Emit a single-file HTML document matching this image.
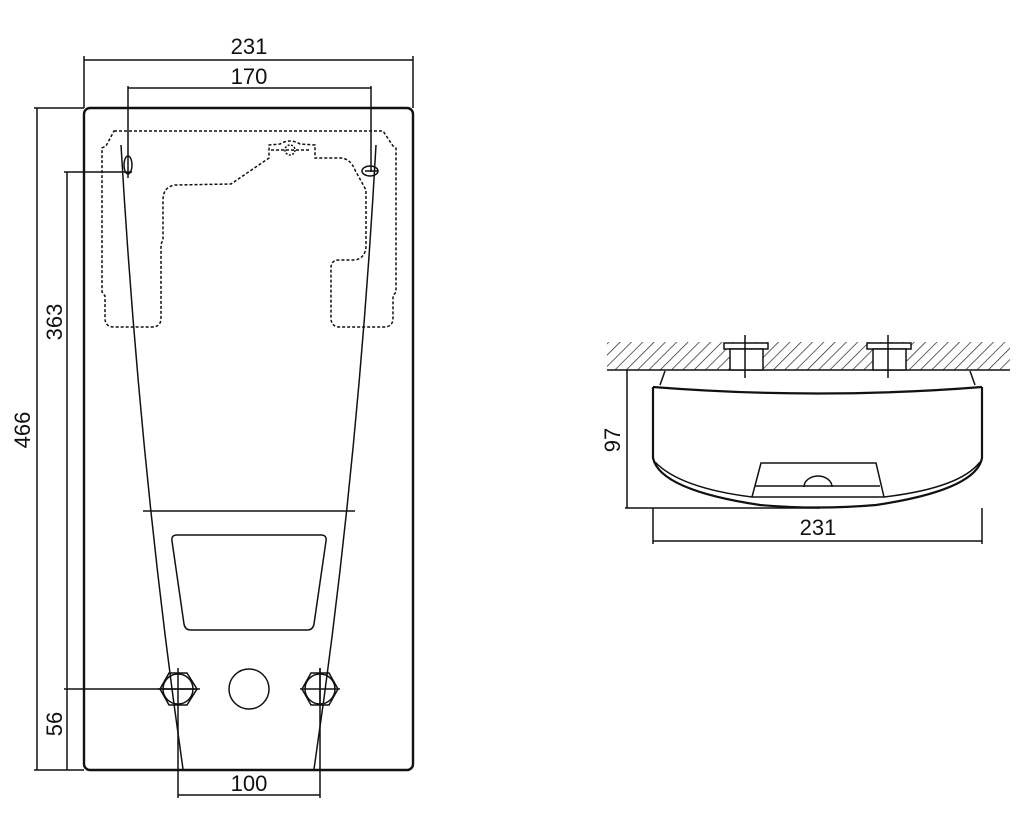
<!DOCTYPE html>
<html><head><style>body{margin:0;background:#fff}svg{display:block}text{font-family:"Liberation Sans",sans-serif;font-size:22px;fill:#111}</style></head><body>
<svg width="1020" height="835" viewBox="0 0 1020 835" xmlns="http://www.w3.org/2000/svg">
<defs><pattern id="h" patternUnits="userSpaceOnUse" width="8" height="8" patternTransform="rotate(45)"><line x1="0" y1="0" x2="0" y2="8" stroke="#222" stroke-width="1.4"/></pattern></defs>
<g fill="none" stroke="#111" stroke-width="1.5">
<rect x="84" y="108" width="329" height="662" rx="6" stroke-width="2.4"/>
<line x1="84" y1="60" x2="413" y2="60"/><line x1="84" y1="56" x2="84" y2="108"/><line x1="413" y1="56" x2="413" y2="108"/>
<line x1="128" y1="88" x2="371" y2="88"/><line x1="128" y1="86" x2="128" y2="178"/><line x1="371" y1="86" x2="371" y2="172"/>
<line x1="37" y1="108" x2="37" y2="770"/><line x1="34" y1="108" x2="84" y2="108"/><line x1="34" y1="770" x2="84" y2="770"/>
<line x1="67" y1="172" x2="67" y2="770"/><line x1="64" y1="172" x2="132" y2="172"/><line x1="64" y1="689" x2="200" y2="689"/>
<line x1="178" y1="668" x2="178" y2="798"/><line x1="320" y1="668" x2="320" y2="798"/><line x1="178" y1="795" x2="320" y2="795"/>
<path d="M121 145 Q140 470 183 769"/><path d="M376 145 Q358 470 314 769"/>
<line x1="143" y1="511" x2="355" y2="511"/>
<path d="M177 535 L321 535 Q327 535 326 541 L314 624 Q313 630 307 630 L191 630 Q185 630 184 624 L172 541 Q171 535 177 535Z"/>
<circle cx="249" cy="689" r="20"/>
<polygon points="169,673 187,673 197,689 187,705 169,705 160,689"/>
<polygon points="311,673 329,673 338,689 329,705 311,705 302,689"/>
<circle cx="178" cy="689" r="15"/><circle cx="320" cy="689" r="15"/>
<line x1="158" y1="689" x2="198" y2="689"/><line x1="300" y1="689" x2="340" y2="689"/>
<line x1="320" y1="668" x2="320" y2="706"/>
<path stroke-dasharray="3,2" d="M114 131 L383 131 L393 146 L396 148 L396 292 L393 296 L393 318 Q393 327 384 327 L340 327 Q331 327 331 318 L331 268 Q331 260 339 260 L355 260 Q366 258 366 245 L366 190 L355 170 Q350 158 340 158 L315 158 L315 145 L300 144 Q290 138 280 144 L269 145 L269 158 L231 184 L175 185 Q163 187 163 200 L163 240 L161 244 L161 318 Q161 327 152 327 L114 327 Q105 327 105 318 L105 296 L102 292 L102 148 L106 146 Z"/>
<path stroke-dasharray="3,2" d="M271 150 L309 150"/>
<circle cx="290" cy="150" r="5" stroke-dasharray="2,1.5"/>
<ellipse cx="128" cy="165" rx="4" ry="9"/><ellipse cx="370" cy="171" rx="8" ry="5"/>
<line x1="365" y1="171" x2="378" y2="171"/>
<rect x="607" y="342" width="403" height="28" fill="url(#h)" stroke="none"/>
<line x1="607" y1="370" x2="1010" y2="370"/>
<rect x="724" y="343" width="44" height="6" fill="#fff"/><rect x="730" y="349" width="33" height="21" fill="#fff"/>
<rect x="867" y="343" width="44" height="6" fill="#fff"/><rect x="873" y="349" width="33" height="21" fill="#fff"/>
<line x1="745" y1="335" x2="745" y2="378"/><line x1="888" y1="335" x2="888" y2="378"/>
<path d="M665 371 L660 385"/><path d="M970 371 L975 385"/>
<path d="M653 387 Q818 400 982 387" stroke-width="2.2"/>
<path d="M653 387 L653 458 Q660 490 760 505 Q818 510 876 505 Q976 490 982 458 L982 387" stroke-width="2.2"/>
<path d="M655 462 Q680 488 752 497 L884 497 Q960 488 980 462"/>
<path d="M752 497 L761 463 L876 463 L884 497"/><line x1="755" y1="486" x2="880" y2="486"/>
<path d="M804 487 A14 11 0 0 1 832 487"/>
<line x1="627" y1="370" x2="627" y2="508"/><line x1="625" y1="508" x2="820" y2="508"/>
<line x1="653" y1="508" x2="653" y2="544"/><line x1="982" y1="508" x2="982" y2="544"/><line x1="653" y1="541" x2="982" y2="541"/>
</g>
<text x="249" y="54" text-anchor="middle">231</text>
<text x="249" y="84" text-anchor="middle">170</text>
<text x="249" y="791" text-anchor="middle">100</text>
<text x="818" y="535" text-anchor="middle">231</text>
<text transform="translate(30,430) rotate(-90)" text-anchor="middle">466</text>
<text transform="translate(62,322) rotate(-90)" text-anchor="middle">363</text>
<text transform="translate(62,724) rotate(-90)" text-anchor="middle">56</text>
<text transform="translate(620,440) rotate(-90)" text-anchor="middle">97</text>
</svg>
</body></html>
